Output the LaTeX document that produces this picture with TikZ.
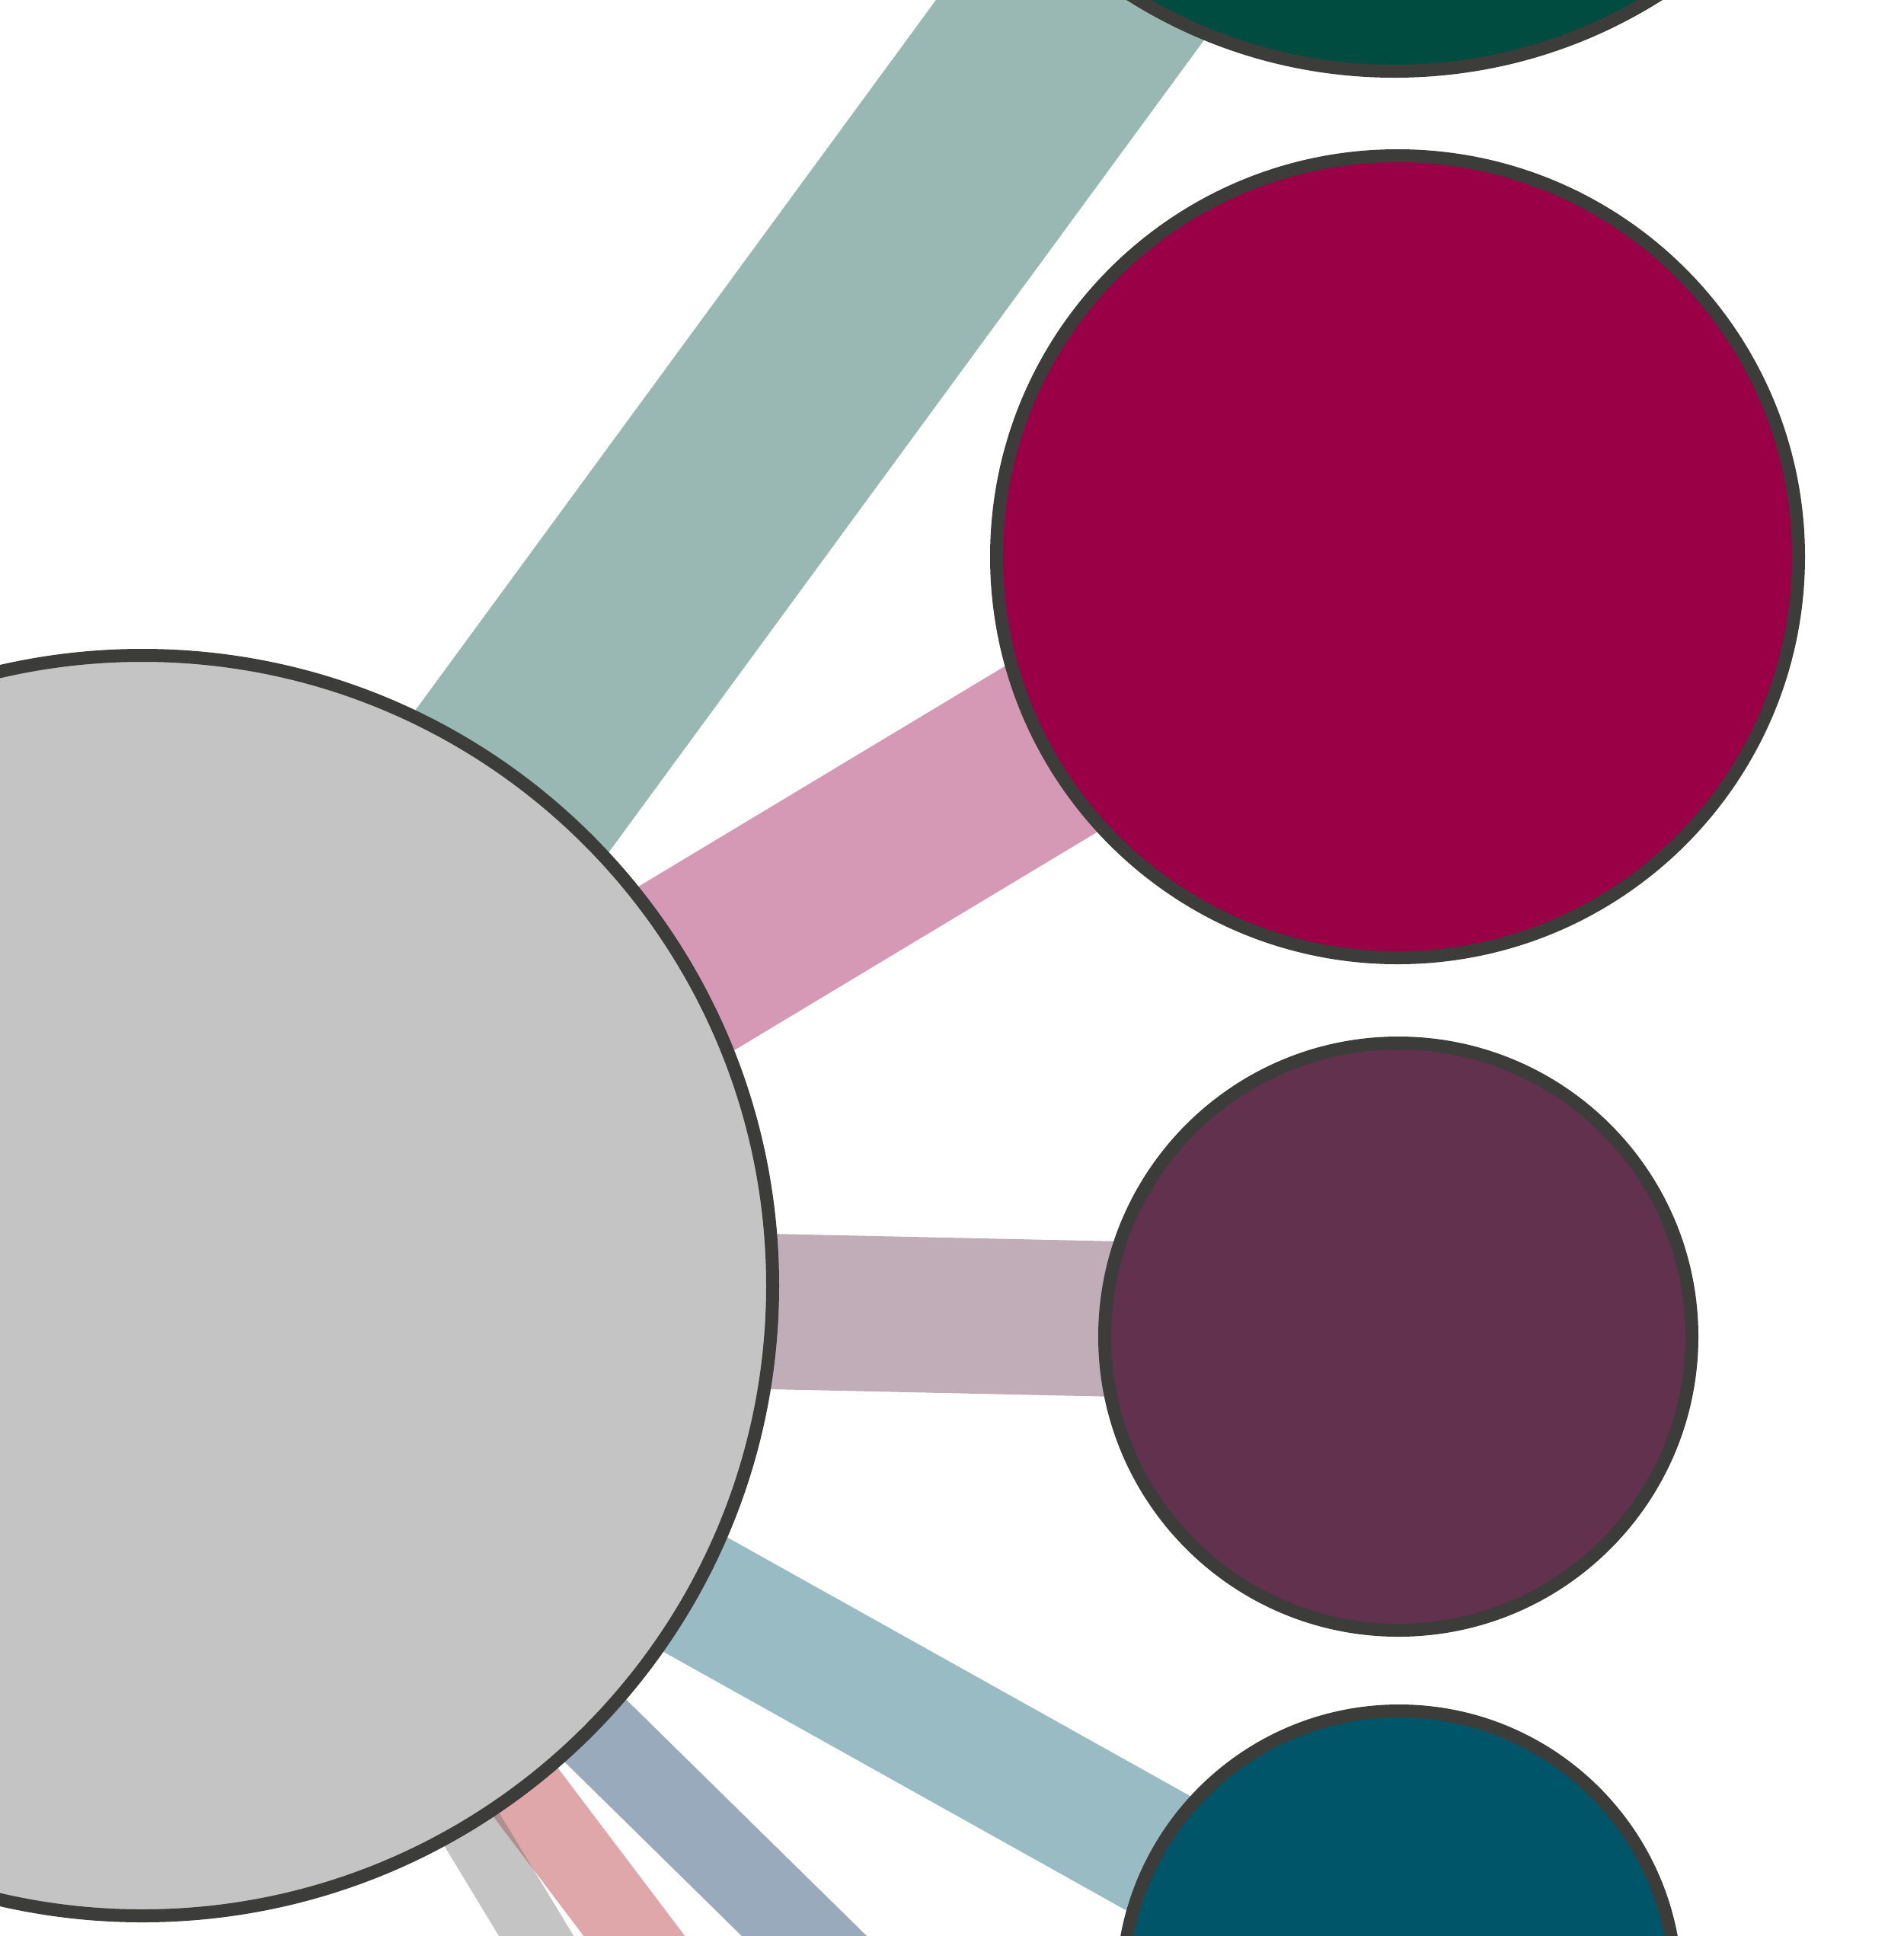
\documentclass[tikz,border=0pt]{standalone}
\usetikzlibrary{backgrounds}
\definecolor{rimgrey}{HTML}{3C3C3A}
\definecolor{hubgrey}{HTML}{C4C4C4}
\definecolor{pine}{HTML}{004C40}
\definecolor{crimson}{HTML}{990045}
\definecolor{plum}{HTML}{62314E}
\definecolor{petrol}{HTML}{005568}
\definecolor{navy}{HTML}{002A5A}
\definecolor{brick}{HTML}{AF2328}
\definecolor{slate}{HTML}{6B6B6B}

\begin{document}
\begin{tikzpicture}[xscale=1,yscale=1,
  disc/.style={circle,draw=rimgrey,line width=0.17cm,inner sep=0pt,minimum size=#1},
  band/.style={line width=#1,draw opacity=0.4}]
\useasboundingbox (0,0) rectangle (25,-25.42);
% circles
\node[disc=16.55cm,fill=hubgrey] (hub) at (1.87,-16.88) {};
\node[disc=12.97cm,fill=pine] (pine) at (18.31,5.55) {};
\node[disc=10.53cm,fill=crimson] (crimson) at (18.35,-7.31) {};
\node[disc=7.71cm,fill=plum] (plum) at (18.36,-17.55) {};
\node[disc=7.27cm,fill=petrol] (petrol) at (18.37,-26.10) {};
% ends off the page
\path (hub.center) ++(-44.5:14) coordinate (navyend);
\path (hub.center) ++(-52.9:14) coordinate (brickend);
\path (hub.center) ++(-58.8:14) coordinate (slateend);
% bands
\begin{pgfonlayer}{background}
\draw[band=3.15cm,pine] (hub.center) -- (pine.center);
\draw[band=2.49cm,crimson] ([yshift=-0.13cm]hub.center) -- ([yshift=0.21cm]crimson.center);
\draw[band=2.04cm,plum] ([yshift=-0.16cm]hub.center) -- ([yshift=0.15cm]plum.center);
\draw[band=1.72cm,petrol] (hub.center) -- (petrol.center);
\draw[band=1.15cm,navy] (hub.center) -- (navyend);
\draw[band=1.06cm,brick] (hub.center) -- (brickend);
\draw[band=0.84cm,slate] (hub.center) -- (slateend);
\end{pgfonlayer}
\end{tikzpicture}
\end{document}
